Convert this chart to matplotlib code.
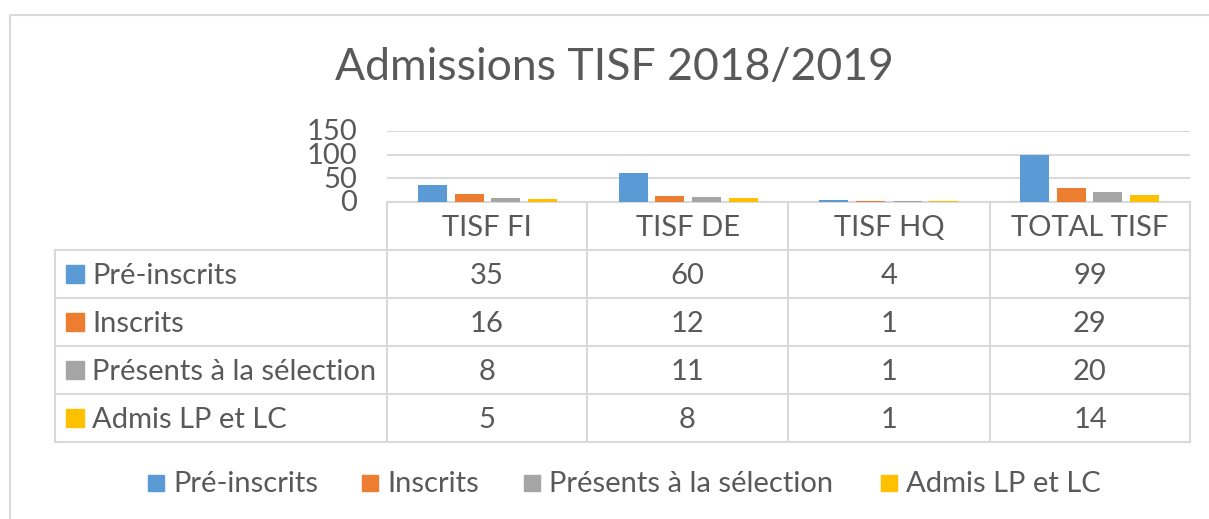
import numpy as np
import matplotlib.pyplot as plt

plt.rcParams['font.family'] = ['Lato', 'DejaVu Sans']

# Data
categories = ['TISF FI', 'TISF DE', 'TISF HQ', 'TOTAL TISF']
series_names = ['Pré-inscrits', 'Inscrits', 'Présents à la sélection', 'Admis LP et LC']
pre_inscrits = [35, 60, 4, 99]
inscrits = [16, 12, 1, 29]
presents = [8, 11, 1, 20]
admis = [5, 8, 1, 14]
y_ticks = [0, 50, 100, 150]

values = [pre_inscrits, inscrits, presents, admis]
colors = ['#5B9BD5', '#ED7D31', '#A5A5A5', '#FFC000']
txt = '#595959'
line_c = '#D9D9D9'
fs = 21

W, H = 1209, 519
fig = plt.figure(figsize=(W / 100, H / 100), dpi=100)

# background axes in pixel coordinates for frame, table and legend
bg = fig.add_axes([0, 0, 1, 1])
bg.set_xlim(0, W)
bg.set_ylim(H, 0)
bg.axis('off')

# chart frame
bg.plot([10, 10, W + 5], [H + 5, 14.5, 14.5], color=line_c, lw=1.5)

bg.text(614, 67, 'Admissions TISF 2018/2019', ha='center', va='center',
        fontsize=32, color=txt)

# plot area
x0, x1 = 387, 1190
y_top, y_bot = 131, 201.7
ax = fig.add_axes([x0 / W, 1 - y_bot / H, (x1 - x0) / W, (y_bot - y_top) / H])
ax.set_xlim(-0.5, len(categories) - 0.5)
ax.set_ylim(0, 150)
ax.set_facecolor('none')
for s in ax.spines.values():
    s.set_visible(False)
ax.set_xticks([])
ax.set_yticks(y_ticks)
ax.set_yticklabels([])
ax.tick_params(length=0)
ax.grid(axis='y', color=line_c, lw=1.5)
ax.set_axisbelow(True)

x = np.arange(len(categories))
pitch = 0.1825
for i, (vals, c) in enumerate(zip(values, colors)):
    ax.bar(x + (i - 1.5) * pitch, vals, width=0.145, color=c, zorder=3)

# y tick labels placed by hand so they can overlap like the original
for t in y_ticks:
    yp = y_bot - (y_bot - y_top) * t / 150
    bg.text(357, yp + 1.5, str(t), ha='right', va='center', fontsize=fs, color=txt)

# data table
col_x = [387, 587, 788, 990, 1190]
row_y = [201.7, 250, 298, 346, 394, 442]
lw = 1.5
dy = 2  # small downward nudge of text inside the cells
for cx in col_x:
    bg.plot([cx, cx], [row_y[0], row_y[-1]], color=line_c, lw=lw)
bg.plot([55, 55], [row_y[1], row_y[-1]], color=line_c, lw=lw)
bg.plot([x0, x1], [row_y[0], row_y[0]], color=line_c, lw=lw)
for ry in row_y[1:]:
    bg.plot([55, x1], [ry, ry], color=line_c, lw=lw)

for j, cat in enumerate(categories):
    cx = (col_x[j] + col_x[j + 1]) / 2
    bg.text(cx, (row_y[0] + row_y[1]) / 2 + dy, cat, ha='center', va='center',
            fontsize=fs, color=txt)

for i, (name, vals, c) in enumerate(zip(series_names, values, colors)):
    cy = (row_y[i + 1] + row_y[i + 2]) / 2
    bg.add_patch(plt.Rectangle((66, cy - 9), 18, 18, color=c))
    bg.text(92, cy + dy, name, ha='left', va='center', fontsize=fs, color=txt)
    for j, v in enumerate(vals):
        cx = (col_x[j] + col_x[j + 1]) / 2
        bg.text(cx, cy + dy, str(v), ha='center', va='center', fontsize=fs, color=txt)

# legend
leg_x = [148, 362, 524, 881]
for lx, name, c in zip(leg_x, series_names, colors):
    bg.add_patch(plt.Rectangle((lx, 475), 16, 16, color=c))
    bg.text(lx + 25, 484, name, ha='left', va='center', fontsize=fs, color=txt)

plt.savefig('out.png', dpi=100)
plt.close()
